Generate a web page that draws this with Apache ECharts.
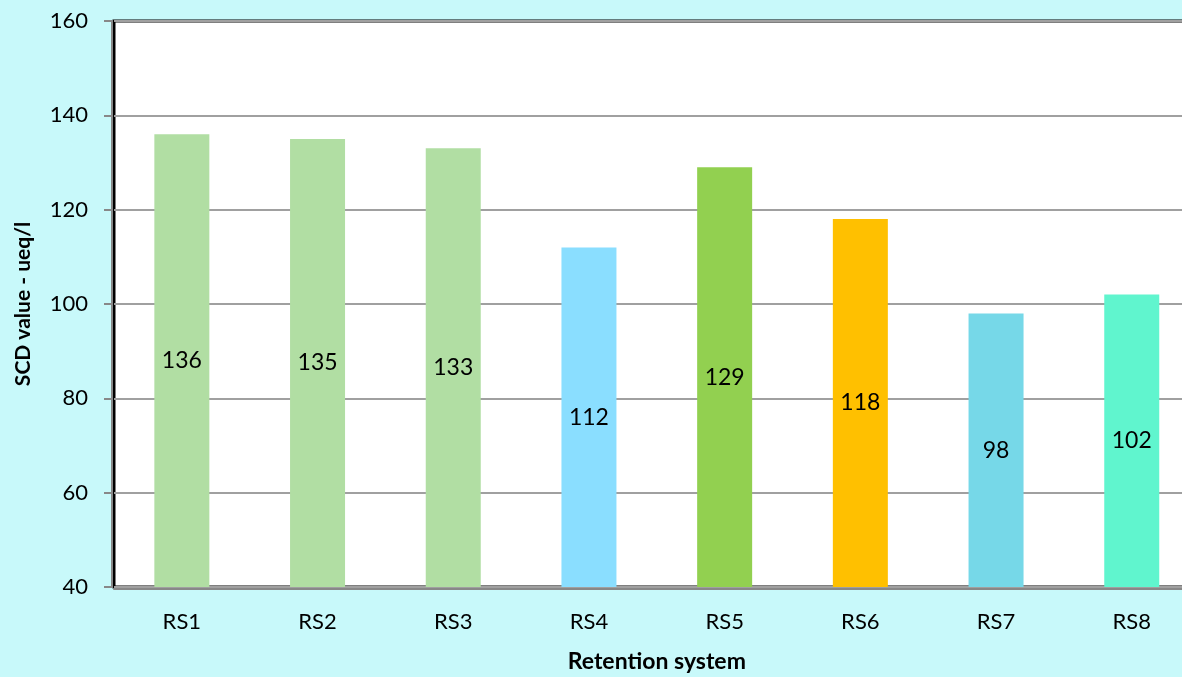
<!DOCTYPE html>
<html>
<head>
<meta charset="utf-8">
<script src="https://cdn.jsdelivr.net/npm/echarts@6/dist/echarts.min.js"></script>
<style>
  html, body {
    margin: 0; padding: 0; overflow: hidden;
    background: linear-gradient(to bottom, #C8F9FA 0 21px, #FFFFFF 21px 586px, #C8F9FA 586px);
  }
  #chart { position: fixed; left: 0; top: 0; width: 1200px; height: 677px; }
</style>
</head>
<body>
<div id="chart"></div>
<script>
// Retention systems and their SCD values (ueq/l)
const categories = ['RS1', 'RS2', 'RS3', 'RS4', 'RS5', 'RS6', 'RS7', 'RS8'];
const scdValues = [136, 135, 133, 112, 129, 118, 98, 102];
const barColors = ['#B1DEA3', '#B1DEA3', '#B1DEA3', '#8ADEFF', '#92D050', '#FFC000', '#76D8E8', '#60F5CE'];
const yTicks = { min: 40, max: 160, interval: 20 };

const FONT = 'Lato, "Open Sans", "Liberation Sans", sans-serif';

// The plot frame continues past the right edge of the page, so the
// category axis spans two extra (empty) slots beyond RS8.
const BAND = 135.7;
const SLOTS = categories.length + 2;

const chart = echarts.init(document.getElementById('chart'), null, { renderer: 'canvas' });
chart.setOption({
  backgroundColor: '#C8F9FA',
  animation: false,
  textStyle: { fontFamily: FONT },
  grid: {
    left: 114,
    top: 21,
    width: BAND * SLOTS,
    height: 566,
    outerBoundsMode: 'none',
    show: true,
    backgroundColor: '#FFFFFF',
    borderColor: '#000000',
    borderWidth: 3
  },
  xAxis: {
    type: 'category',
    data: categories,
    min: 0,
    max: SLOTS - 1,
    offset: 2,
    axisLine: { show: true, lineStyle: { color: '#888888', width: 2 } },
    axisTick: { show: false },
    axisLabel: {
      color: '#000', fontSize: 22, margin: 22, fontFamily: FONT,
      formatter: (v) => (categories.includes(v) ? v : '')
    }
  },
  yAxis: {
    type: 'value',
    min: yTicks.min,
    max: yTicks.max,
    interval: yTicks.interval,
    offset: 2,
    axisLine: { show: true, lineStyle: { color: '#888888', width: 2 } },
    axisTick: { show: true, length: 8, lineStyle: { color: '#888888', width: 2 } },
    axisLabel: { color: '#000', fontSize: 22, margin: 24, fontFamily: FONT },
    splitLine: { show: true, lineStyle: { color: '#A0A0A0', width: 2 } },
    name: 'SCD value - ueq/l',
    nameLocation: 'middle',
    nameGap: 78,
    nameTextStyle: { color: '#000', fontSize: 21, fontWeight: 'bold', fontFamily: FONT }
  },
  series: [{
    type: 'bar',
    barWidth: 55,
    data: scdValues.map((v, i) => ({ value: v, itemStyle: { color: barColors[i] } })),
    label: {
      show: true,
      position: 'inside',
      color: '#000',
      fontSize: 23,
      fontFamily: FONT
    }
  }]
});

// X-axis title, centred under the eight category slots
const mid = chart.convertToPixel({ xAxisIndex: 0 }, 0) - BAND / 2 + BAND * categories.length / 2;
chart.setOption({
  graphic: [{
    type: 'text',
    x: mid,
    y: 650,
    style: {
      text: 'Retention system',
      fill: '#000',
      font: 'bold 23px ' + FONT,
      textAlign: 'center',
      textVerticalAlign: 'top'
    }
  }]
});
</script>
</body>
</html>
